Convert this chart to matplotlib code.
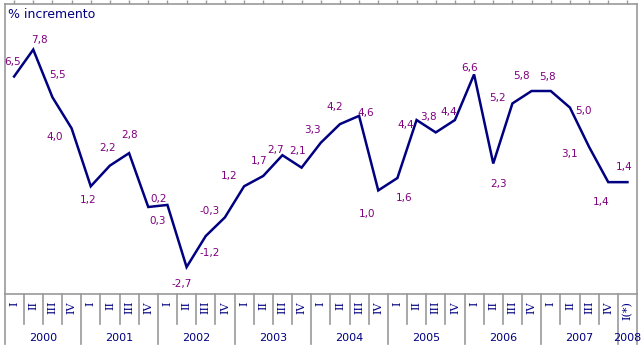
import numpy as np
import matplotlib.pyplot as plt

# quarterly % change, 2000 I .. 2008 I(*)
values = [6.5, 7.8, 5.5, 4.0,
          1.2, 2.2, 2.8, 0.2,
          0.3, -2.7, -1.2, -0.3,
          1.2, 1.7, 2.7, 2.1,
          3.3, 4.2, 4.6, 1.0,
          1.6, 4.4, 3.8, 4.4,
          6.6, 2.3, 5.2, 5.8,
          5.8, 5.0, 3.1, 1.4,
          1.4]
quarters = ["I", "II", "III", "IV"] * 8 + ["I(*)"]
years = ["2000", "2001", "2002", "2003", "2004", "2005", "2006", "2007", "2008"]

# label offsets in pixels (dx, dy), dy positive = up
label_offsets = [(-2, 15), (6, 10), (5, 22), (-17, -9),
                 (-3, -14), (-2, 18), (0, 18), (10, 8),
                 (-10, -16), (-5, -17), (4, -17), (-15, 6),
                 (-15, 10), (-4, 15), (-7, 5), (-4, 17),
                 (-8, 13), (-5, 17), (7, 3), (-11, -24),
                 (7, -20), (-11, -5), (-7, 15), (-6, 8),
                 (-5, 6), (5, -20), (-15, 5), (-10, 15),
                 (-3, 14), (14, -3), (-20, -7), (-7, -20),
                 (-3, 15)]

navy = "#000080"
purple = "#800080"
grey = "#999999"

fig = plt.figure(figsize=(6.43, 3.6), dpi=100)
ax = fig.add_axes([4.5 / 643, 1 - 294 / 360, 632.5 / 643, 290 / 360])

x = np.arange(len(values))
ax.plot(x, values, color=navy, linewidth=1.8, solid_joinstyle="miter")

for xi, v, (dx, dy) in zip(x, values, label_offsets):
    ax.annotate(f"{v:.1f}".replace(".", ","), (xi, v), xytext=(dx, dy),
                textcoords="offset pixels", ha="center", va="center",
                fontsize=7.5, color=purple)

ax.set_xlim(-0.5, len(values) - 0.5)
ax.set_ylim(-4, 10)

for s in ax.spines.values():
    s.set_color(grey)
    s.set_linewidth(1.2)

ax.xaxis.tick_top()
ax.set_xticks(x)
ax.set_xticklabels([])
ax.tick_params(axis="x", direction="out", length=3, color=grey, width=1)
ax.set_yticks([])

# category table under the plot
tr = ax.get_xaxis_transform()
ax_h = 290
q_bot = -(324 - 294) / ax_h
y_bot = -(344 - 294) / ax_h
for i in range(len(values) + 1):
    xs = i - 0.5
    is_year = (i % 4 == 0) or i == len(values)
    ax.plot([xs, xs], [0, y_bot if is_year else q_bot], transform=tr,
            color=grey, linewidth=1.2, clip_on=False)

for xi, q in zip(x, quarters):
    ax.text(xi, -(301 - 294) / ax_h, q, transform=tr, rotation=90,
            ha="center", va="top", fontsize=8, color=navy,
            family="DejaVu Serif")

for j, yr in enumerate(years):
    if j < 8:
        xc = 4 * j + 1.5
    else:
        xc = 32
    ax.text(xc, -(338 - 294) / ax_h, yr, transform=tr, ha="center",
            va="center", fontsize=8, color=navy)

fig.text(8 / 643, 1 - 15 / 360, "% incremento", ha="left", va="center",
         fontsize=9, color=navy)

fig.savefig("out.png", dpi=100)
